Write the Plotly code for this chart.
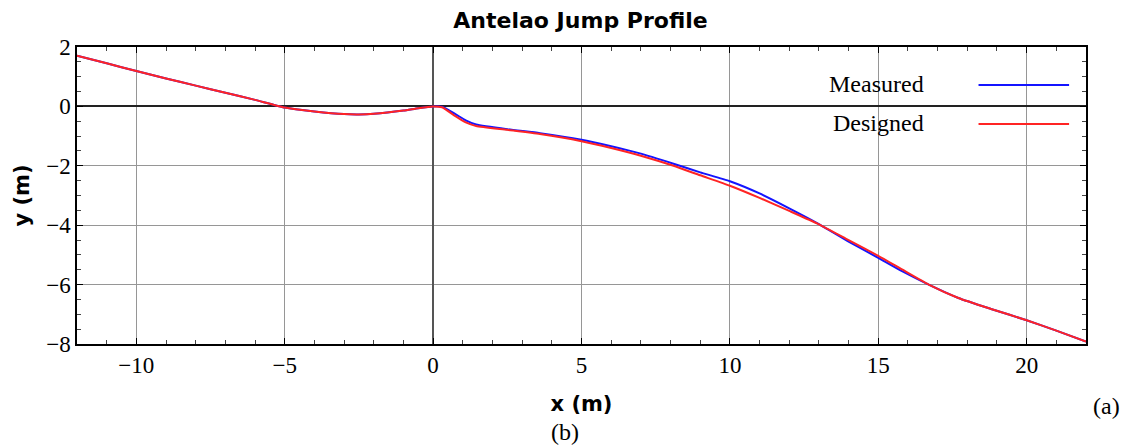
import plotly.graph_objects as go

# Designed profile (red)
designed_x = [-12, -11, -10, -9, -8, -7, -6, -5, -4, -3, -2.5, -2, -1, -0.5, 0,
              0.3, 0.75, 1.1, 1.45, 2.5, 3.6, 5, 6, 7, 8.1, 9, 10, 11, 12, 13, 14,
              15, 15.8, 16.7, 17.7, 18.8, 20, 21, 22]
designed_y = [1.71, 1.45, 1.19, 0.94, 0.70, 0.46, 0.22, -0.04, -0.17, -0.26, -0.27, -0.25, -0.14, -0.06, 0.0,
              -0.03, -0.33, -0.54, -0.66, -0.79, -0.93, -1.17, -1.40, -1.66, -2.00, -2.32, -2.67, -3.08, -3.52, -3.97, -4.50,
              -5.03, -5.49, -6.00, -6.45, -6.82, -7.20, -7.55, -7.92]

# Measured profile (blue)
measured_x = [-12, -11, -10, -9, -8, -7, -6, -5, -4, -3, -2.5, -2, -1, -0.5, 0,
              0.3, 0.75, 1.1, 1.45, 2.5, 3.6, 5, 6, 7, 8.1, 9, 10, 11, 12, 13, 14,
              15, 15.8, 16.7, 17.7, 18.8, 20, 21, 22]
measured_y = [1.71, 1.45, 1.19, 0.94, 0.70, 0.46, 0.22, -0.04, -0.17, -0.26, -0.27, -0.25, -0.14, -0.06, 0.0,
              -0.01, -0.26, -0.47, -0.61, -0.77, -0.90, -1.12, -1.34, -1.59, -1.93, -2.22, -2.52, -2.93, -3.43, -3.96, -4.55,
              -5.10, -5.55, -6.00, -6.45, -6.82, -7.20, -7.55, -7.92]

x_ticks = [-10, -5, 0, 5, 10, 15, 20]
x_tick_labels = ["\u221210", "\u22125", "0", "5", "10", "15", "20"]
y_ticks = [2, 0, -2, -4, -6, -8]
y_tick_labels = ["2", "0", "\u22122", "\u22124", "\u22126", "\u22128"]

series_names = ["Measured", "Designed"]
series_colors = ["#1414ff", "#ff2424"]

# page body has an 8px margin; the figure is sized so the window is filled
W, H = 1120, 437
L, R, T, B = 64, 42, 39, 101
PW = W - L - R
PH = H - T - B
OFF = 8


def px_x(p):
    return (p - OFF - L) / PW


def px_y(p):
    return 1 - (p - OFF - T) / PH


fig = go.Figure()
fig.add_trace(go.Scatter(x=measured_x, y=measured_y, mode="lines", name=series_names[0],
                         line=dict(color=series_colors[0], width=2, shape="spline", smoothing=0.5)))
fig.add_trace(go.Scatter(x=designed_x, y=designed_y, mode="lines", name=series_names[1],
                         line=dict(color=series_colors[1], width=2, shape="spline", smoothing=0.5)))

serif = "Liberation Serif"
sans = "DejaVu Sans"

fig.update_layout(
    width=W, height=H,
    margin=dict(l=L, r=R, t=T, b=B),
    paper_bgcolor="white", plot_bgcolor="white",
    showlegend=False,
    title=dict(text="<b>Antelao Jump Profile</b>", x=px_x(578), xref="paper", xanchor="center",
               y=1 - (20 - OFF) / H, yref="container", yanchor="middle",
               font=dict(family=sans, size=22, color="black")),
)

fig.update_xaxes(
    range=[-12, 22], tickvals=x_ticks, ticktext=x_tick_labels,
    tickfont=dict(family=serif, size=23, color="black"),
    showgrid=True, gridcolor="#969696", gridwidth=1,
    zeroline=True, zerolinecolor="#555555", zerolinewidth=1.5,
    showline=True, linecolor="black", linewidth=1.5, mirror="allticks",
    ticks="inside", ticklen=6, tickcolor="black",
    minor=dict(dtick=1, ticks="inside", ticklen=4, tickcolor="#444444", showgrid=False),
    title=dict(text="<b>x (m)</b>", font=dict(family=sans, size=21, color="black"), standoff=19),
)
fig.update_yaxes(
    range=[-8, 2], tickvals=y_ticks, ticktext=y_tick_labels,
    tickfont=dict(family=serif, size=23, color="black"),
    showgrid=True, gridcolor="#969696", gridwidth=1,
    zeroline=True, zerolinecolor="#222222", zerolinewidth=2,
    showline=True, linecolor="black", linewidth=1.5, mirror="allticks",
    ticks="inside", ticklen=6, tickcolor="black",
    minor=dict(dtick=0.5, ticks="inside", ticklen=4, tickcolor="#444444", showgrid=False),
    title=dict(text="<b>y (m)</b>", font=dict(family=sans, size=21, color="black"), standoff=11),
)

# Legend drawn as text + sample lines (text on the left, line on the right)
legend_text_rows = [84, 123]
legend_line_rows = [85, 124]
for name, color, yt, yl in zip(series_names, series_colors, legend_text_rows, legend_line_rows):
    fig.add_annotation(text=name, x=px_x(925), xref="paper", y=px_y(yt), yref="paper",
                       showarrow=False, xanchor="right", yanchor="middle",
                       font=dict(family=serif, size=24, color="black"))
    fig.add_shape(type="line", xref="paper", yref="paper", x0=px_x(978), x1=px_x(1069),
                  y0=px_y(yl), y1=px_y(yl), line=dict(color=color, width=2))

# caption labels
fig.add_annotation(text="(a)", x=px_x(1107), xref="paper", y=px_y(406), yref="paper", showarrow=False,
                   xanchor="center", yanchor="middle", font=dict(family=serif, size=24, color="black"))
fig.add_annotation(text="(b)", x=px_x(562), xref="paper", y=px_y(432), yref="paper", showarrow=False,
                   xanchor="center", yanchor="middle", font=dict(family=serif, size=24, color="black"))

fig.write_html("out.html")
